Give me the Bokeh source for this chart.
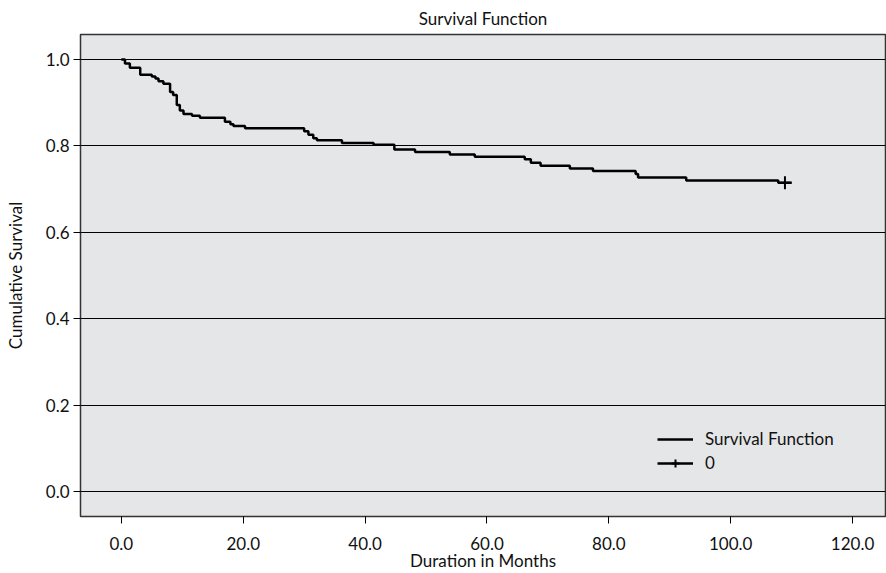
from bokeh.plotting import figure
from bokeh.models import Range1d, FixedTicker, NumeralTickFormatter, Legend, LegendItem, ColumnDataSource
from bokeh.embed import file_html
from bokeh.resources import INLINE

# Kaplan-Meier step data
months = [0, 0.6, 1.4, 3.1, 5.0, 5.6, 6.1, 6.9, 8.0, 8.5, 9.1, 9.6, 10.2, 11.6, 12.9,
          17.0, 17.9, 18.4, 20.3, 30.0, 30.7, 31.5, 32.1, 36.2, 41.4, 44.8, 48.2,
          53.9, 58.0, 66.2, 67.2, 68.8, 73.6, 77.4, 84.4, 84.8, 92.7, 107.8, 110.0]
survival = [1.0, 0.991, 0.981, 0.965, 0.961, 0.956, 0.950, 0.944, 0.925, 0.918, 0.895,
            0.882, 0.874, 0.870, 0.865, 0.856, 0.850, 0.846, 0.841, 0.834, 0.826,
            0.818, 0.813, 0.807, 0.803, 0.792, 0.786, 0.780, 0.775, 0.769, 0.761,
            0.754, 0.748, 0.742, 0.735, 0.727, 0.720, 0.715, 0.715]
censored_months = [108.9]
censored_survival = [0.715]

x_ticks = [0, 20, 40, 60, 80, 100, 120]
y_ticks = [0.0, 0.2, 0.4, 0.6, 0.8, 1.0]

FONT = "Lato"
FS = "17px"

p = figure(width=886, height=573, output_backend="svg", toolbar_location=None,
           x_range=Range1d(-6.7, 125.4), y_range=Range1d(-0.058, 1.058),
           min_border_left=80, min_border_right=1, min_border_top=34, min_border_bottom=57)

p.title.text = "Survival Function"
p.title.align = "center"
p.title.text_font = FONT
p.title.text_font_size = FS
p.title.text_font_style = "normal"
p.title.text_color = "#111111"
p.title.offset = 0
p.title.standoff = 11

p.background_fill_color = "#e5e6e8"
p.border_fill_color = "white"
p.outline_line_color = "#333333"
p.outline_line_width = 1.5

p.xgrid.grid_line_color = None
p.ygrid.grid_line_color = "black"
p.ygrid.grid_line_width = 1
p.ygrid.ticker = FixedTicker(ticks=y_ticks)

for ax in (p.xaxis[0], p.yaxis[0]):
    ax.axis_line_color = None
    ax.major_tick_in = 0
    ax.major_tick_out = 7
    ax.minor_tick_line_color = None
    ax.major_tick_line_color = "black"
    ax.major_label_text_font = FONT
    ax.major_label_text_font_size = FS
    ax.major_label_text_color = "#111111"
    ax.axis_label_text_font = FONT
    ax.axis_label_text_font_size = FS
    ax.axis_label_text_font_style = "normal"
    ax.axis_label_text_color = "#111111"
    ax.formatter = NumeralTickFormatter(format="0.0")

p.xaxis[0].ticker = FixedTicker(ticks=x_ticks)
p.yaxis[0].ticker = FixedTicker(ticks=y_ticks)
p.xaxis[0].axis_label = "Duration in Months"
p.yaxis[0].axis_label = "Cumulative Survival"
p.xaxis[0].major_label_standoff = 13
p.xaxis[0].axis_label_standoff = -3
p.yaxis[0].major_label_standoff = 4
p.yaxis[0].axis_label_standoff = 17

src = ColumnDataSource(dict(x=months, y=survival))
step_r = p.step("x", "y", source=src, mode="after", line_color="black", line_width=2.5)
cens_r = p.scatter(censored_months, censored_survival, marker="cross", size=13,
                   line_color="black", line_width=2)

legend = Legend(items=[LegendItem(label="Survival Function", renderers=[step_r]),
                       LegendItem(label="0", renderers=[step_r, cens_r])],
                location=(577, 43))
legend.background_fill_alpha = 0
legend.border_line_color = None
legend.label_text_font = FONT
legend.label_text_font_size = FS
legend.label_text_color = "#111111"
legend.glyph_width = 36
legend.glyph_height = 20
legend.label_height = 20
legend.spacing = 3
legend.padding = 0
legend.margin = 0
legend.label_standoff = 12
p.add_layout(legend, "center")

open("out.html", "w").write(file_html(p, INLINE))
